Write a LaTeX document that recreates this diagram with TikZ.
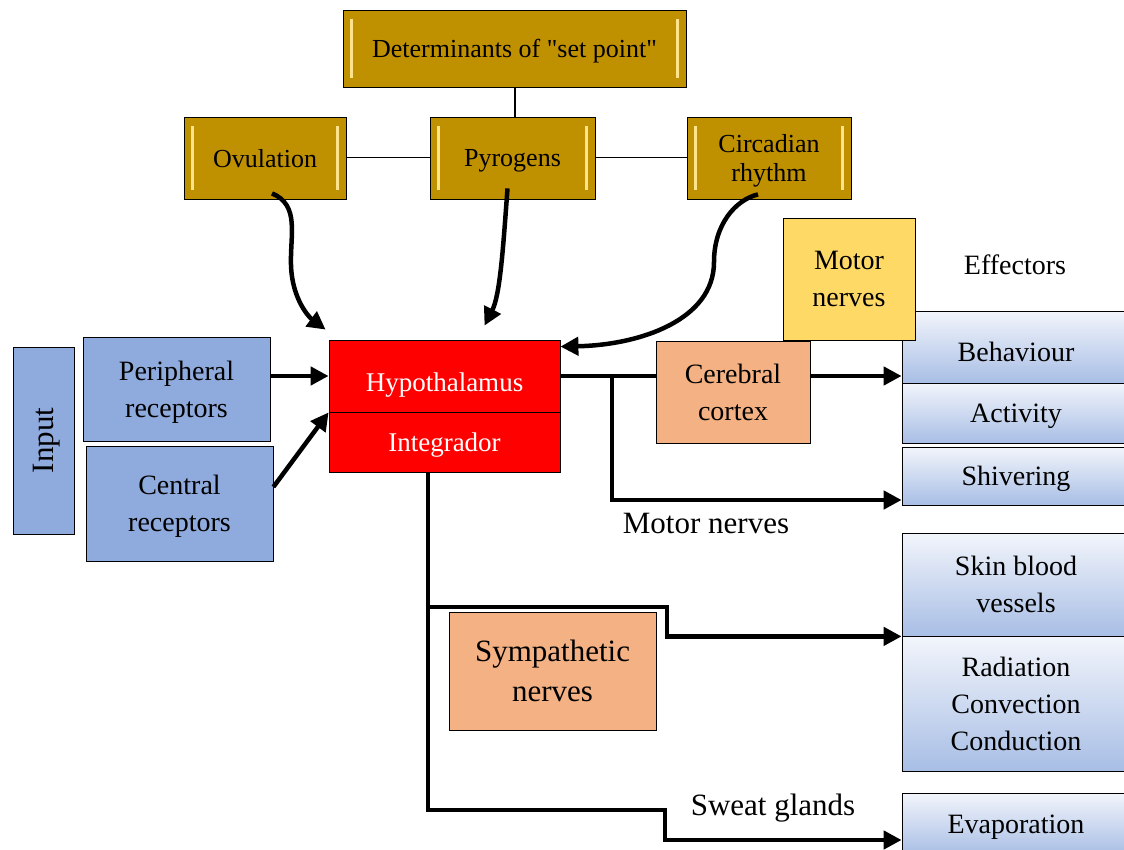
\documentclass[tikz,border=0pt]{standalone}
\usepackage{fontspec}
\setmainfont{Liberation Serif}
\usetikzlibrary{arrows.meta,calc}
\definecolor{gold}{HTML}{BF9000}
\definecolor{goldlight}{HTML}{FFE38A}
\definecolor{inputblue}{HTML}{8FAADC}
\definecolor{salmon}{HTML}{F4B183}
\definecolor{butter}{HTML}{FFD966}
\definecolor{efftop}{HTML}{F2F5FB}
\definecolor{effbot}{HTML}{A8BEE5}

\begin{document}
\begin{tikzpicture}
[x=1pt,y=-1pt,%
  box/.style={draw,thick,inner sep=0pt,align=center,text depth=0pt,font=\fontsize{28}{37}\selectfont},%
  goldbox/.style={box,fill=gold,font=\fontsize{26}{30}\selectfont,%
    path picture={%
      \fill[goldlight] ([xshift=7pt,yshift=-9pt]path picture bounding box.north west) rectangle ([xshift=10pt,yshift=9pt]path picture bounding box.south west);
      \fill[goldlight] ([xshift=-7pt,yshift=-9pt]path picture bounding box.north east) rectangle ([xshift=-10pt,yshift=9pt]path picture bounding box.south east);}},%
  bluebox/.style={box,fill=inputblue},%
  redbox/.style={box,fill=red,text=white,font=\fontsize{27}{34}\selectfont},%
  salmonbox/.style={box,fill=salmon},%
  yellowbox/.style={box,fill=butter},%
  effbox/.style={box,top color=efftop,bottom color=effbot,minimum width=228pt},%
  lbl/.style={inner sep=0pt,font=\fontsize{31}{37}\selectfont},%
  conn/.style={line width=4.5pt},%
  flow/.style={conn,-{Triangle[length=18pt,width=18pt]}}]
\useasboundingbox (0,0) rectangle (1124,850);
\node[goldbox,minimum width=343pt,minimum height=77pt] (det) at (514.5,48.5) {Determinants of \textquotedbl set point\textquotedbl};
\node[goldbox,minimum width=162pt,minimum height=82pt] (ovul) at (265,158) {Ovulation};
\node[goldbox,minimum width=165pt,minimum height=82pt] (pyro) at (512.5,158) {Pyrogens};
\node[goldbox,minimum width=164pt,minimum height=82pt,font=\fontsize{26}{29}\selectfont] (circ) at (769,158) {Circadian\\rhythm};
\node[bluebox,rotate=90,minimum width=187pt,minimum height=61pt,font=\fontsize{31}{36}\selectfont] (input) at (43.5,440.5) {Input};
\node[bluebox,minimum width=187pt,minimum height=104pt] (perirec) at (176.5,389) {Peripheral\\receptors};
\node[bluebox,minimum width=187pt,minimum height=115pt] (centrec) at (179.5,503.5) {Central\\receptors};
\node[redbox,minimum width=231pt,minimum height=72pt] (hypo) at (444.5,376) {\raisebox{-13pt}{Hypothalamus}};
\node[redbox,minimum width=231pt,minimum height=60pt] (integ) at (444.5,442) {Integrador};
\node[salmonbox,minimum width=154pt,minimum height=102pt] (cortex) at (733,392) {Cerebral\\cortex};
\node[effbox,minimum height=72pt] (behav) at (1016,347) {\raisebox{-10pt}{Behaviour}};
\node[effbox,minimum height=60pt] (activ) at (1016,413) {Activity};
\node[effbox,minimum height=58pt] (shiver) at (1016,476) {Shivering};
\node[effbox,minimum height=103pt] (skin) at (1016,584.5) {Skin blood\\vessels};
\node[effbox,minimum height=135pt] (radiat) at (1016,703.5) {Radiation\\Convection\\Conduction};
\node[effbox,minimum height=62pt] (evap) at (1016,824) {Evaporation};
\node[yellowbox,minimum width=132pt,minimum height=122pt] (motorbox) at (849,279) {Motor\\nerves};
\node[lbl,font=\fontsize{28}{34}\selectfont] (effect) at (1015,265) {Effectors};
\node[lbl] (motorlbl) at (706,523) {Motor nerves};
\node[salmonbox,minimum width=207pt,minimum height=118pt,font=\fontsize{31}{40}\selectfont] (sympa) at (552.5,671) {Sympathetic\\nerves};
\node[lbl] (sweatlbl) at (773,808) {Sweat glands};
\coordinate (ovtail) at ($(ovul.south)+(7,-6)$);
\coordinate (pytail) at ($(pyro.south)+(-5,-11)$);
\coordinate (cirtail) at ($(circ.south)+(-11,-5)$);
\coordinate (ovtip) at ($(hypo.north west)+(-3,-10)$);
\coordinate (pytip) at ($(hypo.north)+(40,-14)$);
\coordinate (cirtip) at ($(hypo.north east)+(0,7)$);
\coordinate (mbranch) at (612,376);
\coordinate (mturn) at (612,500);
\coordinate (strunk) at (428,607);
\coordinate (sjog) at (667,607);
\coordinate (wtrunk) at (428,810);
\coordinate (wjog) at (665,810);
\coordinate (wdrop) at (665,840);
\draw[line width=2pt] (det.south) -- (det.south |- pyro.north);
\draw[line width=1pt] (ovul.east) -- (pyro.west);
\draw[line width=1pt] (pyro.east) -- (circ.west);
\draw[flow] (ovtail) .. controls (300,205) and (290,235) .. (291,265) .. controls (292,300) and (310,318) .. (ovtip);
\draw[flow] (pytail) .. controls (503,250) and (500,295) .. (pytip);
\draw[flow] (cirtail) .. controls (735,200) and (714,225) .. (714,262) .. controls (714,320) and (640,345) .. (cirtip);
\draw[flow] (perirec.east |- hypo.west) -- (hypo.west);
\draw[flow] (centrec.10) -- (hypo.south west);
\draw[conn] (hypo.east) -- (hypo.east -| cortex.west);
\draw[flow] (cortex.east |- hypo.east) -- (behav.west |- hypo.east);
\draw[flow] (mbranch) -- (mturn) -- (mturn -| shiver.west);
\draw[flow] (integ.south -| strunk) -- (wtrunk) -- (wjog) -- (wdrop) -- (wdrop -| evap.west);
\draw[flow] (strunk) -- (sjog) -- (sjog |- skin.south) -- (skin.south west);
\end{tikzpicture}
\end{document}
